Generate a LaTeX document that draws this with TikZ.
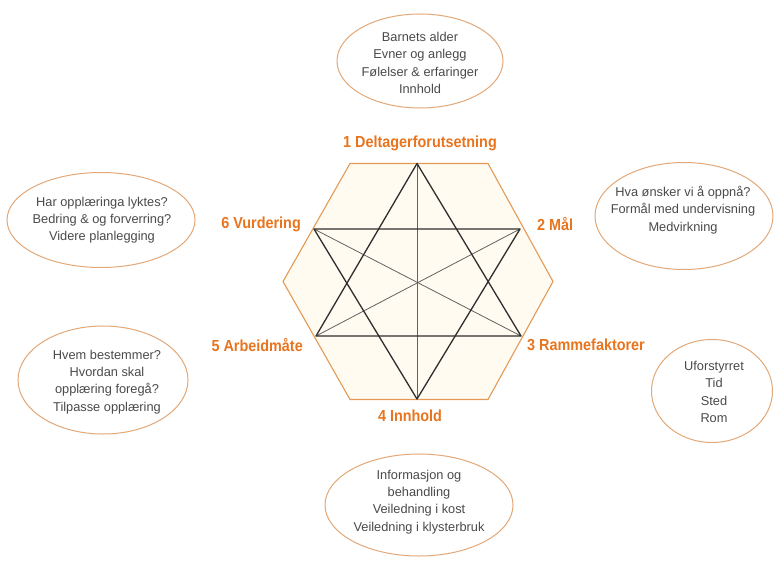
\documentclass[tikz,border=0pt]{standalone}
\usepackage{fontspec}
\setmainfont{Liberation Sans}
\newfontfamily\lblfont{Liberation Sans}[FakeStretch=0.9]
\usetikzlibrary{shapes.geometric}
\definecolor{lbl}{HTML}{E8741E}
\definecolor{rim}{HTML}{E2A878}
\definecolor{hexrim}{HTML}{E49A55}
\definecolor{hexfill}{HTML}{FFFBF0}
\definecolor{txt}{HTML}{4A4A4A}
\definecolor{starline}{HTML}{2E2E2E}
\begin{document}
\begin{tikzpicture}[x=1pt,y=-1pt,
  bubble/.style={ellipse, draw=rim, line width=1pt, fill=white, inner sep=0pt},
  note/.style={text=txt, font=\fontsize{12.8}{17.3}\selectfont, align=center, inner sep=0pt},
  corner/.style={text=lbl, font=\lblfont\fontsize{16}{18}\selectfont\bfseries, inner sep=0pt},
  rimline/.style={draw=starline, line width=1.3pt, line join=round},
  spoke/.style={draw=starline!75, line width=0.8pt}]
\useasboundingbox (0,0) rectangle (775,560);

% hexagon frame
\coordinate (h1) at (350,163.5);
\coordinate (h2) at (488,163.5);
\coordinate (h3) at (553,281.5);
\coordinate (h4) at (488,399.5);
\coordinate (h5) at (350,399.5);
\coordinate (h6) at (283,281.5);
\draw[draw=hexrim, fill=hexfill, line width=1.1pt, line join=miter]
  (h1) -- (h2) -- (h3) -- (h4) -- (h5) -- (h6) -- cycle;

% star points
\coordinate (t)  at (417,163.5);
\coordinate (bt) at (417,399);
\coordinate (ul) at (314,229);
\coordinate (ur) at (520,229);
\coordinate (ll) at (316,336);
\coordinate (lr) at (521,336);

% spokes through the centre
\draw[spoke] (t) -- (bt);
\draw[spoke] (ul) -- (lr);
\draw[spoke] (ur) -- (ll);
% the two triangles
\draw[rimline] (t) -- (ll) -- (lr) -- cycle;
\draw[rimline] (bt) -- (ul) -- (ur) -- cycle;

% corner labels
\node[corner] (l1) at (420,143) {1 Deltagerforutsetning};
\node[corner, anchor=east] (l6) at (301,224) {6 Vurdering};
\node[corner, anchor=west] (l2) at (537,224) {2 Mål};
\node[corner, anchor=east] (l5) at (303,345) {5 Arbeidmåte};
\node[corner, anchor=west] (l3) at (527,345) {3 Rammefaktorer};
\node[corner] (l4) at (410,416) {4 Innhold};

% surrounding notes: outline first, then its text
\node[bubble, minimum width=166pt, minimum height=94pt] (n1) at (420,61) {};
\node[note] (n1t) at (420,63)
  {Barnets alder\\Evner og anlegg\\Følelser \& erfaringer\\Innhold};
\node[bubble, minimum width=188pt, minimum height=95pt] (n6) at (101,220) {};
\node[note] (n6t) at (102,220)
  {Har opplæringa lyktes?\\Bedring \& og forverring?\\Videre planlegging};
\node[bubble, minimum width=178pt, minimum height=107pt] (n2) at (684,216) {};
\node[note] (n2t) at (683,210)
  {Hva ønsker vi å oppnå?\\Formål med undervisning\\Medvirkning};
\node[bubble, minimum width=170pt, minimum height=108pt] (n5) at (103,380) {};
\node[note] (n5t) at (107,382)
  {Hvem bestemmer?\\Hvordan skal\\opplæring foregå?\\Tilpasse opplæring};
\node[bubble, minimum width=121pt, minimum height=103pt] (n3) at (712,391) {};
\node[note] (n3t) at (714,392)
  {Uforstyrret\\Tid\\Sted\\Rom};
\node[bubble, minimum width=188pt, minimum height=102pt] (n4) at (419,505) {};
\node[note] (n4t) at (419,502)
  {Informasjon og\\behandling\\Veiledning i kost\\Veiledning i klysterbruk};
\end{tikzpicture}
\end{document}
